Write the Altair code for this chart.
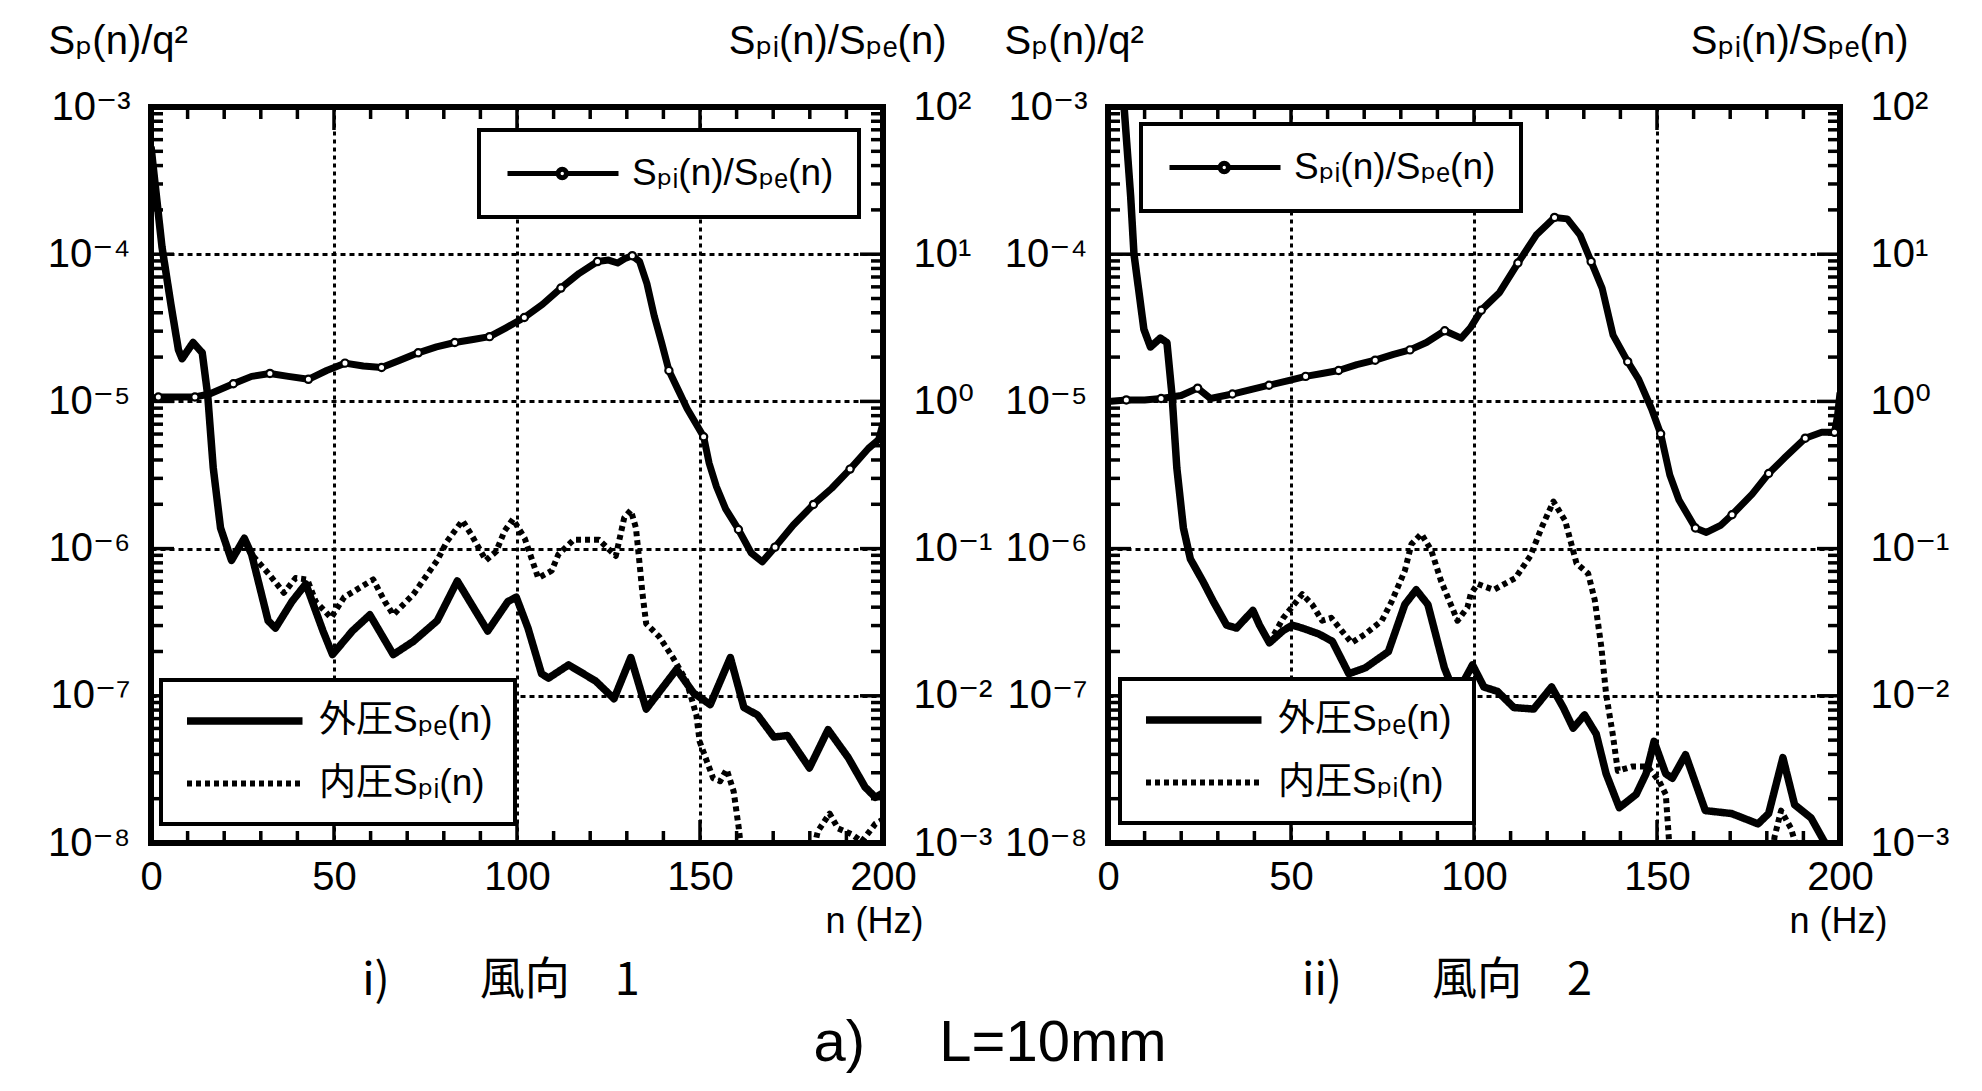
import json
import altair as alt
import numpy as np
import pandas as pd

W, H = 732, 736
LATIN = "Liberation Sans, DejaVu Sans, Noto Sans CJK JP"
CJK = "Noto Sans CJK JP"

LAB_E = "外圧Sₚₑ(n)"
LAB_I = "内圧Sₚᵢ(n)"
LAB_R = "Sₚᵢ(n)/Sₚₑ(n)"

# ---------------- 風向 1 (values read as log10 of the plotted quantity) ----------------
spe1_f = [0, 3, 5.5, 7.5, 8.5, 11.5, 14, 15.5, 17, 19, 22, 25.5, 27.5, 32, 34, 38.5, 42.3, 47, 49.6, 55,
          59.8, 66.2, 71.7, 78.2, 83.7, 92, 97.5, 99.8, 103, 106.7, 108.6, 114.1, 121.5, 126.5, 131.1,
          135.3, 143.6, 148.2, 152.8, 158.3, 162, 165.7, 170.2, 173.9, 179.9, 185, 190.5, 195.1, 197.9, 200]
spe1_log = [-3.27, -3.95, -4.35, -4.65, -4.71, -4.60, -4.67, -4.96, -5.45, -5.86, -6.08, -5.93, -6.04,
            -6.49, -6.54, -6.36, -6.24, -6.56, -6.72, -6.56, -6.45, -6.72, -6.63, -6.49, -6.22, -6.56,
            -6.36, -6.33, -6.54, -6.85, -6.88, -6.79, -6.90, -7.02, -6.74, -7.09, -6.82, -6.98, -7.06,
            -6.74, -7.08, -7.13, -7.28, -7.27, -7.49, -7.23, -7.42, -7.62, -7.69, -7.66]

spi1_f = [0, 3, 5.5, 7.5, 8.5, 11.5, 14, 15.5, 17, 19, 22, 25.5, 27.5, 32.1, 36.3, 39.5, 42.7, 45, 49.2,
          52.8, 56.1, 60.7, 63.9, 66.2, 71.7, 78.2, 80.9, 85.1, 87.4, 91.5, 94.3, 96.6, 98.9, 102.1, 105.8,
          109.5, 111.3, 115.5, 122.4, 127, 129.3, 131.1, 132.5, 133.4, 134.3, 135.3, 138.9, 142.6, 146.3,
          149, 149.9, 151.8, 153.6, 155.5, 157.3, 159.2, 160.6, 161.5, 165, 176, 180.5, 182.2, 185.4,
          187.7, 191.4, 194.2, 197.9, 200]
spi1_log = [-3.27, -3.95, -4.35, -4.65, -4.71, -4.60, -4.67, -4.96, -5.45, -5.86, -6.08, -5.93, -6.04,
            -6.17, -6.30, -6.20, -6.21, -6.36, -6.47, -6.33, -6.28, -6.21, -6.36, -6.45, -6.31, -6.08,
            -5.95, -5.81, -5.90, -6.08, -6.02, -5.88, -5.80, -5.93, -6.20, -6.15, -6.04, -5.94, -5.94,
            -6.05, -5.79, -5.74, -5.86, -6.08, -6.31, -6.51, -6.60, -6.74, -6.90, -7.13, -7.31, -7.44,
            -7.56, -7.58, -7.50, -7.65, -7.90, -8.10, -8.50, -8.50, -8.10, -7.92, -7.80, -7.90, -7.94,
            -7.99, -7.87, -7.84]

ratio1_f = [0, 2, 7, 12, 16, 22.5, 27.5, 32.5, 37.5, 43, 48, 53, 58, 63, 68, 73, 78, 83, 88, 92.5, 97, 102,
            107, 112, 117, 122, 125, 127.5, 129.5, 131.5, 133.5, 135.5, 137.5, 139.5, 141.5, 144, 146.5,
            151, 152.5, 154.5, 157, 160.5, 164, 167, 170.5, 175.5, 181, 186, 191, 196, 198.8, 200]
ratio1_log = [0.02, 0.03, 0.03, 0.03, 0.05, 0.12, 0.17, 0.19, 0.17, 0.15, 0.21, 0.26, 0.24, 0.23, 0.28,
              0.33, 0.37, 0.40, 0.42, 0.44, 0.50, 0.57, 0.66, 0.77, 0.87, 0.95, 0.96, 0.94, 0.97, 0.99,
              0.95, 0.80, 0.58, 0.40, 0.21, 0.08, -0.05, -0.24, -0.42, -0.58, -0.73, -0.87, -1.03, -1.09,
              -0.99, -0.84, -0.70, -0.59, -0.46, -0.32, -0.26, -0.15]
markers1 = [2, 12, 22.5, 32.5, 43, 53, 63, 73, 83, 92.5, 102, 112, 122, 131.5, 141.5, 151, 160.5, 170.5,
            181, 191]

# ---------------- 風向 2 ----------------
spe2_f = [0, 4.4, 6.2, 7.1, 9.8, 11.6, 14.3, 16.1, 17.5, 18.8, 20.6, 22.5, 26.1, 28.8, 32.4, 35.1, 39.6,
          41.4, 44.1, 47.7, 50.4, 53.1, 57.6, 61.3, 65.8, 70.3, 76.6, 81.1, 84.2, 87.4, 91.9, 95, 99.6,
          102.7, 106.4, 110.9, 116.3, 121.2, 124.4, 127.1, 130.2, 133.4, 136.1, 139.7, 144.3, 147, 149.2,
          152.4, 154.2, 157.8, 163.2, 170.4, 177.6, 180.5, 184.4, 187.6, 192.1, 195.7, 198, 200]
spe2_log = [-2.70, -3.00, -3.61, -4.00, -4.51, -4.63, -4.57, -4.60, -4.96, -5.45, -5.86, -6.07, -6.23,
            -6.36, -6.52, -6.54, -6.42, -6.52, -6.64, -6.56, -6.52, -6.54, -6.58, -6.63, -6.85, -6.81,
            -6.70, -6.38, -6.28, -6.38, -6.81, -7.00, -6.79, -6.94, -6.97, -7.08, -7.09, -6.94, -7.08,
            -7.22, -7.13, -7.26, -7.53, -7.76, -7.67, -7.53, -7.31, -7.53, -7.56, -7.40, -7.78, -7.80,
            -7.87, -7.80, -7.42, -7.74, -7.83, -7.99, -8.08, -8.10]

spi2_f = [0, 4.4, 6.2, 7.1, 9.8, 11.6, 14.3, 16.1, 17.5, 18.8, 20.6, 22.5, 26.1, 28.8, 32.4, 35.1, 39.6,
          41.4, 44.1, 47.9, 53.1, 55.8, 58.5, 61, 63.9, 66.6, 70.3, 74.8, 77.5, 81.1, 82.9, 85.6, 88.3, 91,
          95.5, 98.2, 99.1, 101, 105.4, 111.3, 115.4, 118.6, 121.7, 124.9, 128, 131.2, 133, 134.8, 136.1,
          137.9, 139.3, 143.3, 147.4, 150.6, 152.4, 153.3, 154.5, 160, 180, 182.1, 183.9, 186.6, 188.4,
          190, 200]
spi2_log = [-2.70, -3.00, -3.61, -4.00, -4.51, -4.63, -4.57, -4.60, -4.96, -5.45, -5.86, -6.07, -6.23,
            -6.36, -6.52, -6.54, -6.42, -6.52, -6.64, -6.47, -6.31, -6.38, -6.49, -6.47, -6.56, -6.64,
            -6.58, -6.49, -6.36, -6.15, -5.97, -5.90, -6.01, -6.22, -6.49, -6.40, -6.31, -6.24, -6.28,
            -6.20, -6.05, -5.85, -5.68, -5.81, -6.10, -6.17, -6.35, -6.67, -6.99, -7.26, -7.51, -7.48,
            -7.48, -7.58, -7.67, -7.99, -8.40, -8.50, -8.50, -7.96, -7.78, -7.90, -8.05, -8.30, -8.50]

ratio2_f = [0, 5, 10, 14.5, 20, 24.5, 28, 34, 39, 44, 49, 54, 58.5, 63, 68, 73, 78, 82.5, 87, 92, 96.5, 99,
            102, 107, 112, 117, 122, 125.5, 129, 132, 135, 138, 142, 145, 148.5, 151, 153.5, 156, 160.5,
            163.5, 167.5, 170.5, 176, 180.5, 185, 190.5, 195, 198.5, 199.3, 200]
ratio2_log = [0.00, 0.01, 0.01, 0.02, 0.04, 0.09, 0.02, 0.05, 0.08, 0.11, 0.14, 0.17, 0.19, 0.21, 0.25,
              0.28, 0.32, 0.35, 0.40, 0.48, 0.43, 0.50, 0.62, 0.74, 0.94, 1.13, 1.25, 1.24, 1.13, 0.95,
              0.77, 0.45, 0.27, 0.15, -0.05, -0.22, -0.50, -0.67, -0.86, -0.89, -0.84, -0.77, -0.63,
              -0.49, -0.38, -0.25, -0.21, -0.21, -0.10, 0.06]
markers2 = [5, 14.5, 24.5, 34, 44, 54, 63, 73, 82.5, 92, 102, 112, 122, 132, 142, 151, 160.5, 170.5, 180.5,
            190.5, 198.5]

# ---------------- axes / ticks ----------------
x_ticks = [0, 50, 100, 150, 200]
x_minor = [10, 20, 30, 40, 60, 70, 80, 90, 110, 120, 130, 140, 160, 170, 180, 190]
x_major = [50, 100, 150]
left_ticks = [1e-8, 1e-7, 1e-6, 1e-5, 1e-4, 1e-3]
left_labels = ["10⁻⁸", "10⁻⁷", "10⁻⁶", "10⁻⁵", "10⁻⁴", "10⁻³"]
right_ticks = [1e-3, 1e-2, 1e-1, 1, 10, 100]
right_labels = ["10⁻³", "10⁻²", "10⁻¹", "10⁰", "10¹", "10²"]
minor_mantissas = [2, 3, 4, 5, 6, 7, 8, 9]
y_major_inner = [1e-7, 1e-6, 1e-5, 1e-4]
y_minor = [m * d for d in left_ticks[:-1] for m in minor_mantissas]

PATH_LINE = "M-1,0L6.7,0"
PATH_RATIO = ("M-1,0L2.37,0M2.93,0L6.4,0M2.93,0A0.28,0.28,0,1,1,2.37,0"
              "A0.28,0.28,0,1,1,2.93,0Z")


def label_expr(labels, offset):
    return json.dumps(labels, ensure_ascii=False) + f"[round(log(datum.value)/LN10)+{offset}]"


def panel(spe_f, spe_log, spi_f, spi_log, r_f, r_log, markers, caption, cap_dx,
          leg_top, leg_bot, tx_left, tx_right, xt_x):
    spec = pd.DataFrame({
        "f": spe_f + spi_f,
        "v": 10.0 ** np.array(spe_log + spi_log),
        "series": [LAB_E] * len(spe_f) + [LAB_I] * len(spi_f),
    })
    ratio = pd.DataFrame({"f": r_f, "r": 10.0 ** np.array(r_log)})
    ratio["marker"] = ratio["f"].isin(markers)
    ratio["lbl"] = LAB_R

    X = alt.X("f:Q", scale=alt.Scale(domain=[0, 200], nice=False, zero=False),
              axis=alt.Axis(values=x_ticks, grid=True, gridDash=[4, 4], gridWidth=3,
                            gridColor="black", gridOpacity=1, ticks=False, tickSize=0, domain=False,
                            labelFontSize=40, labelPadding=14, labelFlush=False, labelOverlap=False,
                            title="n (Hz)", titleFontSize=36, titleX=xt_x, titleY=89,
                            titleAlign="right", titleBaseline="alphabetic"))
    YL = alt.Y("v:Q", scale=alt.Scale(type="log", domain=[1e-8, 1e-3], nice=False),
               axis=alt.Axis(orient="left", values=left_ticks, labelExpr=label_expr(left_labels, 8),
                             grid=True, gridDash=[5, 4], gridWidth=3, gridColor="black",
                             gridOpacity=1, ticks=False, tickSize=0, domain=False, labelFontSize=40,
                             labelPadding=21, labelOverlap=False, labelBaseline="middle",
                             title="Sₚ(n)/q²", titleAngle=0, titleX=tx_left, titleY=-54,
                             titleAlign="left", titleBaseline="alphabetic", titleFontSize=40))
    YR = alt.Y("r:Q", scale=alt.Scale(type="log", domain=[1e-3, 1e2], nice=False),
               axis=alt.Axis(orient="right", values=right_ticks, labelExpr=label_expr(right_labels, 3),
                             grid=False, ticks=False, tickSize=0, domain=False, labelFontSize=40,
                             labelPadding=30, labelOverlap=False, labelBaseline="middle",
                             title=LAB_R, titleAngle=0, titleX=tx_right, titleY=-54,
                             titleAlign="right", titleBaseline="alphabetic", titleFontSize=40))

    lines = alt.Chart(spec).mark_line(clip=True, color="black", strokeJoin="round").encode(
        x=X, y=YL,
        strokeDash=alt.StrokeDash(
            "series:N", scale=alt.Scale(domain=[LAB_E, LAB_I], range=[[1, 0], [5, 4]]),
            legend=alt.Legend(title=None, orient="none", legendX=leg_bot[0], legendY=leg_bot[1],
                              symbolType=PATH_LINE, symbolSize=900, symbolStrokeWidth=6.5,
                              symbolStrokeColor="black", labelFont=LATIN, labelFontSize=37,
                              labelColor="black", labelOffset=98, labelLimit=500, padding=22,
                              rowPadding=25, strokeColor="black", fillColor="white")),
        strokeWidth=alt.StrokeWidth("series:N", scale=alt.Scale(domain=[LAB_E, LAB_I], range=[7.5, 6]),
                                    legend=None),
    )

    def rules(values, field, **enc):
        df = pd.DataFrame({field: values})
        return alt.Chart(df).mark_rule(color="black", strokeWidth=3.5).encode(**enc)

    ticks = [
        rules(x_minor, "f", x=X, y=alt.value(0), y2=alt.value(12)),
        rules(x_minor, "f", x=X, y=alt.value(H), y2=alt.value(H - 12)),
        rules(x_major, "f", x=X, y=alt.value(0), y2=alt.value(23)),
        rules(x_major, "f", x=X, y=alt.value(H), y2=alt.value(H - 23)),
        rules(y_minor, "v", y=YL, x=alt.value(0), x2=alt.value(12)),
        rules(y_minor, "v", y=YL, x=alt.value(W), x2=alt.value(W - 12)),
        rules(y_major_inner, "v", y=YL, x=alt.value(0), x2=alt.value(23)),
        rules(y_major_inner, "v", y=YL, x=alt.value(W), x2=alt.value(W - 23)),
    ]
    left_group = alt.layer(lines, *ticks)

    rline = alt.Chart(ratio).mark_line(clip=True, strokeWidth=7, strokeJoin="round").encode(
        x=X, y=YR,
        stroke=alt.Stroke(
            "lbl:N", scale=alt.Scale(domain=[LAB_R], range=["black"]),
            legend=alt.Legend(title=None, orient="none", legendX=leg_top[0], legendY=leg_top[1],
                              symbolType=PATH_RATIO, symbolSize=900, symbolStrokeWidth=5,
                              symbolFillColor="white", symbolStrokeColor="black", labelFont=LATIN,
                              labelFontSize=37, labelColor="black", labelOffset=91, labelLimit=500,
                              padding=25, strokeColor="black", fillColor="white")),
    )
    rpts = alt.Chart(ratio).transform_filter("datum.marker").mark_point(
        shape="circle", filled=True, fill="white", stroke="black", strokeWidth=2.2, size=52,
        opacity=1, clip=True).encode(x=X, y=YR)
    right_group = alt.layer(rline, rpts)

    return alt.layer(left_group, right_group).resolve_scale(y="independent").properties(
        width=W, height=H,
        title=alt.TitleParams(caption, orient="bottom", anchor="middle", frame="group", font=CJK,
                              fontSize=45, fontWeight="normal", color="black", offset=20, dx=cap_dx))


p1 = panel(spe1_f, spe1_log, spi1_f, spi1_log, ratio1_f, ratio1_log, markers1,
           "i)　　風向　1", -16, (328, 23), (10, 573), -103, 63, 772)
p2 = panel(spe2_f, spe2_log, spi2_f, spi2_log, ratio2_f, ratio2_log, markers2,
           "ii)　　風向　2", -27, (33, 17), (12, 572), -104, 68, 779)

chart = alt.hconcat(p1, p2, spacing=6).resolve_scale(
    strokeDash="independent", strokeWidth="independent", stroke="independent"
).resolve_legend(strokeDash="independent", stroke="independent").properties(
    padding={"left": 36, "top": 10, "right": 5, "bottom": 5},
    title=alt.TitleParams("a)　 L=10mm", orient="bottom", anchor="middle", font=LATIN, fontSize=58,
                          fontWeight="normal", color="black", offset=8, dx=-8),
).configure_view(stroke="black", strokeWidth=6).configure_legend(strokeWidth=4).configure_axis(
    labelFont=LATIN, titleFont=LATIN, labelColor="black", titleColor="black", titleFontWeight="normal")

chart.save("out.html", embed_options={"renderer": "svg", "actions": False})
